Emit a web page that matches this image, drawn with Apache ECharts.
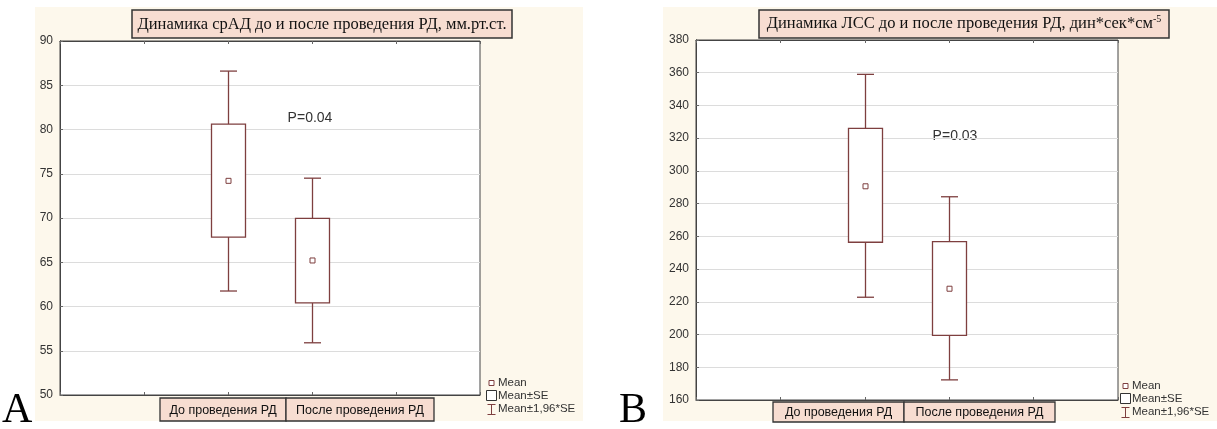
<!DOCTYPE html>
<html>
<head>
<meta charset="utf-8">
<script src="https://cdn.jsdelivr.net/npm/echarts@6/dist/echarts.min.js"></script>
<style>
  html, body { margin: 0; padding: 0; background: #fff; }
  #chart { width: 1217px; height: 429px; }
</style>
</head>
<body>
<div id="chart"></div>
<script>
  // categories sit at x = 2 and 3 on a 0..5 axis (Statistica layout)
  let cats = ['До проведения РД', 'После проведения РД']
  let catPos = [2, 3]

  // chart A: срАД, мм.рт.ст.
  let aMean = [74.2, 65.2]
  let aSeLow = [67.85, 60.4]
  let aSeHigh = [80.6, 69.95]
  let aCiLow = [61.75, 55.9]
  let aCiHigh = [86.6, 74.5]

  // chart B: ЛСС, дин*сек*см-5
  let bMean = [290.6, 228.0]
  let bSeLow = [256.4, 199.5]
  let bSeHigh = [326.0, 256.8]
  let bCiLow = [222.8, 172.3]
  let bCiHigh = [359.0, 284.2]

  let boxColor = '#7e3f3f'
  let cream = '#fdf8ec'
  let tagFill = '#f7ddd1'
  let labelFont = 'Liberation Sans, Arial, sans-serif'
  let serifFont = 'Liberation Serif, Times New Roman, serif'

  function rows (mean, seLo, seHi, ciLo, ciHi) {
    return catPos.map((x, i) => [x, mean[i], seLo[i], seHi[i], ciLo[i], ciHi[i]])
  }

  function renderBox (params, api) {
    let x = api.value(0)
    let m = api.coord([x, api.value(1)])
    let sl = api.coord([x, api.value(2)])
    let sh = api.coord([x, api.value(3)])
    let cl = api.coord([x, api.value(4)])
    let ch = api.coord([x, api.value(5)])
    let cx = Math.round(m[0]) + 0.5
    let bw = 34
    let cw = 17
    let st = { stroke: boxColor, lineWidth: 1.3, fill: null }
    return {
      type: 'group',
      children: [
        { type: 'line', shape: { x1: cx, y1: ch[1], x2: cx, y2: sh[1] }, style: st },
        { type: 'line', shape: { x1: cx, y1: sl[1], x2: cx, y2: cl[1] }, style: st },
        { type: 'line', shape: { x1: cx - cw / 2, y1: ch[1], x2: cx + cw / 2, y2: ch[1] }, style: st },
        { type: 'line', shape: { x1: cx - cw / 2, y1: cl[1], x2: cx + cw / 2, y2: cl[1] }, style: st },
        { type: 'rect', shape: { x: cx - bw / 2, y: sh[1], width: bw, height: sl[1] - sh[1] }, style: { stroke: boxColor, lineWidth: 1.3, fill: '#fff' } },
        { type: 'rect', shape: { x: cx - 2.5, y: m[1] - 2.5, width: 5, height: 5 }, style: { stroke: boxColor, lineWidth: 1, fill: '#fff' } }
      ]
    }
  }

  function xAxes (gi) {
    let base = {
      type: 'value', gridIndex: gi, min: 0, max: 5, interval: 1,
      axisLabel: { show: false },
      splitLine: { show: false },
      axisLine: { show: true, lineStyle: { color: '#444', width: 1 } },
      axisTick: { show: true, inside: true, length: 3, lineStyle: { color: '#666' } }
    }
    return [Object.assign({ position: 'bottom' }, base), Object.assign({ position: 'top' }, base)]
  }

  function yAxes (gi, min, max, step) {
    return [
      {
        type: 'value', gridIndex: gi, min: min, max: max, interval: step, position: 'left',
        axisLine: { show: true, lineStyle: { color: '#444' } },
        axisTick: { show: true, inside: true, length: 3, lineStyle: { color: '#666' } },
        axisLabel: { color: '#333', fontSize: 12, fontFamily: labelFont, margin: 7 },
        splitLine: { show: true, lineStyle: { color: '#dcdcdc' } }
      },
      {
        type: 'value', gridIndex: gi, min: min, max: max, interval: step, position: 'right',
        axisLine: { show: true, lineStyle: { color: '#444' } },
        axisTick: { show: true, length: 3, lineStyle: { color: '#666' } },
        axisLabel: { show: false },
        splitLine: { show: false }
      }
    ]
  }

  function tagBox (x, y, w, h, text) {
    return {
      type: 'group',
      children: [
        { type: 'rect', shape: { x: x, y: y, width: w, height: h }, style: { fill: tagFill, stroke: '#333', lineWidth: 1.3 } },
        { type: 'text', x: x + w / 2, y: y + h / 2 + 1, style: { text: text, fill: '#111', font: '12.5px ' + labelFont, align: 'center', verticalAlign: 'middle' } }
      ]
    }
  }

  function legend (x, y) {
    let f = '11.5px ' + labelFont
    return {
      type: 'group',
      x: x,
      y: y,
      children: [
        { type: 'rect', shape: { x: 3, y: -2.5, width: 5, height: 5 }, style: { stroke: boxColor, fill: '#fff', lineWidth: 1 } },
        { type: 'text', x: 12, y: 0, style: { text: 'Mean', font: f, fill: '#333', verticalAlign: 'middle' } },
        { type: 'rect', shape: { x: 0.5, y: 7.5, width: 10, height: 10 }, style: { stroke: '#333', fill: '#fff', lineWidth: 1 } },
        { type: 'text', x: 12, y: 13, style: { text: 'Mean±SE', font: f, fill: '#333', verticalAlign: 'middle' } },
        { type: 'line', shape: { x1: 5.5, y1: 21, x2: 5.5, y2: 32 }, style: { stroke: boxColor, lineWidth: 1 } },
        { type: 'line', shape: { x1: 1.5, y1: 21.5, x2: 9.5, y2: 21.5 }, style: { stroke: boxColor, lineWidth: 1 } },
        { type: 'line', shape: { x1: 1.5, y1: 31.5, x2: 9.5, y2: 31.5 }, style: { stroke: boxColor, lineWidth: 1 } },
        { type: 'text', x: 12, y: 26, style: { text: 'Mean±1,96*SE', font: f, fill: '#333', verticalAlign: 'middle' } }
      ]
    }
  }

  let myChart = echarts.init(document.getElementById('chart'))
  let option = {
    backgroundColor: '#fff',
    animation: false,
    grid: [
      { left: 60, top: 41, width: 420, height: 354, show: true, backgroundColor: '#fff', borderColor: '#444', borderWidth: 1 },
      { left: 696, top: 40, width: 422, height: 360, show: true, backgroundColor: '#fff', borderColor: '#444', borderWidth: 1 }
    ],
    xAxis: xAxes(0).concat(xAxes(1)),
    yAxis: yAxes(0, 50, 90, 5).concat(yAxes(1, 160, 380, 20)),
    graphic: [
      { type: 'rect', z: -10, shape: { x: 35, y: 7, width: 548, height: 414 }, style: { fill: cream } },
      { type: 'rect', z: -10, shape: { x: 663, y: 7, width: 554, height: 414 }, style: { fill: cream } },
      {
        type: 'group',
        children: [
          { type: 'rect', shape: { x: 132, y: 10, width: 380, height: 28 }, style: { fill: tagFill, stroke: '#333', lineWidth: 1.5 } },
          { type: 'text', x: 322, y: 25, style: { text: 'Динамика срАД до и после проведения РД, мм.рт.ст.', font: '16.5px ' + serifFont, fill: '#111', align: 'center', verticalAlign: 'middle' } }
        ]
      },
      {
        type: 'group',
        children: [
          { type: 'rect', shape: { x: 759, y: 10, width: 410, height: 28 }, style: { fill: tagFill, stroke: '#333', lineWidth: 1.5 } },
          {
            type: 'text', x: 964, y: 24,
            style: {
              text: '{m|Динамика ЛСС до и после проведения РД, дин*сек*см}{s|-5}',
              align: 'center', verticalAlign: 'middle',
              rich: {
                m: { font: '16.5px ' + serifFont, fill: '#111' },
                s: { font: '10px ' + serifFont, fill: '#111', padding: [0, 0, 9, 0] }
              }
            }
          }
        ]
      },
      tagBox(160, 398, 126, 23, cats[0]),
      tagBox(286, 398, 148, 23, cats[1]),
      tagBox(773, 402, 131, 20, cats[0]),
      tagBox(904, 402, 151, 20, cats[1]),
      { type: 'text', x: 310, y: 118, style: { text: 'P=0.04', font: '14px ' + labelFont, fill: '#333', align: 'center', verticalAlign: 'middle' } },
      { type: 'text', x: 955, y: 136, style: { text: 'P=0.03', font: '14px ' + labelFont, fill: '#333', align: 'center', verticalAlign: 'middle' } },
      legend(486, 383),
      legend(1120, 386),
      { type: 'text', x: 2, y: 432, style: { text: 'A', font: '42px ' + serifFont, fill: '#000', verticalAlign: 'bottom' } },
      { type: 'text', x: 619, y: 432, style: { text: 'B', font: '42px ' + serifFont, fill: '#000', verticalAlign: 'bottom' } }
    ],
    series: [
      {
        type: 'custom',
        xAxisIndex: 0,
        yAxisIndex: 0,
        renderItem: renderBox,
        encode: { x: 0, y: [1, 2, 3, 4, 5] },
        data: rows(aMean, aSeLow, aSeHigh, aCiLow, aCiHigh)
      },
      {
        type: 'custom',
        xAxisIndex: 2,
        yAxisIndex: 2,
        renderItem: renderBox,
        encode: { x: 0, y: [1, 2, 3, 4, 5] },
        data: rows(bMean, bSeLow, bSeHigh, bCiLow, bCiHigh)
      }
    ]
  }
  myChart.setOption(option)
</script>
</body>
</html>
